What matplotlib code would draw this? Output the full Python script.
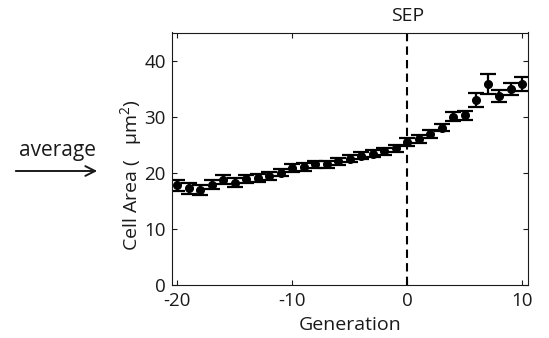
import matplotlib
matplotlib.use("Agg")
import matplotlib.pyplot as plt

plt.rcParams['font.family'] = ['Open Sans', 'DejaVu Sans']
plt.rcParams['mathtext.fontset'] = 'custom'
plt.rcParams['mathtext.rm'] = 'Open Sans'
plt.rcParams['mathtext.it'] = 'Open Sans'

generation = list(range(-20, 11))
cell_area = [17.7, 17.2, 16.9, 17.8, 18.7, 18.2, 18.9, 19.0, 19.4, 20.0,
             20.8, 21.0, 21.5, 21.5, 22.0, 22.5, 23.0, 23.4, 23.8, 24.3,
             25.5, 26.0, 26.9, 28.0, 30.0, 30.2, 32.9, 35.8, 33.7, 34.9, 35.8]
cell_err = [1.0, 0.95, 0.9, 0.8, 0.8, 0.75, 0.75, 0.7, 0.7, 0.65,
            0.65, 0.65, 0.6, 0.6, 0.6, 0.6, 0.6, 0.6, 0.6, 0.6,
            0.7, 0.65, 0.7, 0.65, 0.87, 0.87, 1.25, 1.75, 1.05, 1.0, 1.2]
xticks = [-20, -10, 0, 10]
yticks = [0, 10, 20, 30, 40]

W, H = 549, 338
TXT = '#1a1a1a'
fig = plt.figure(figsize=(W / 100, H / 100), dpi=100)
ax = fig.add_axes([171.5 / W, 1 - 284.6 / H, (528 - 171.5) / W, (284.6 - 32.5) / H])

ax.errorbar(generation, cell_area, yerr=cell_err, fmt='o', color='black',
            markersize=5.5, elinewidth=1.6, capsize=5.5, capthick=1.6)
ax.axvline(0, color='black', linestyle=(0, (4, 2.5)), linewidth=1.5)

ax.set_xlim(-20.5, 10.5)
ax.set_ylim(0, 45)
ax.set_xticks(xticks)
ax.set_xticklabels([str(t) for t in xticks])
ax.set_yticks(yticks)
ax.tick_params(direction='in', length=3.5, width=0.8, top=True, right=True,
               labelsize=13.5, colors=TXT, labelcolor=TXT)
ax.tick_params(axis='x', pad=5)
ax.tick_params(axis='y', pad=4)
for s in ax.spines.values():
    s.set_linewidth(0.8)
    s.set_color(TXT)

ax.set_xlabel('Generation', fontsize=14, color=TXT, labelpad=5)
fig.text(131 / W, 1 - 175 / H, r'Cell Area (   μm$^2$)', rotation=90,
         ha='center', va='center', fontsize=14, color=TXT)

ax.text(0, 1.03, 'SEP', transform=ax.get_xaxis_transform(), ha='center',
        va='bottom', fontsize=14, color=TXT)

fig.text(58 / W, 1 - 150 / H, 'average', ha='center', va='center',
         fontsize=15, color=TXT)
ax.annotate('', xy=(100 / W, 1 - 171 / H), xytext=(13 / W, 1 - 171 / H),
            xycoords='figure fraction', textcoords='figure fraction',
            arrowprops=dict(arrowstyle='->,head_length=0.7,head_width=0.35',
                            color=TXT, lw=1.4))

fig.savefig('out.png', dpi=100)
